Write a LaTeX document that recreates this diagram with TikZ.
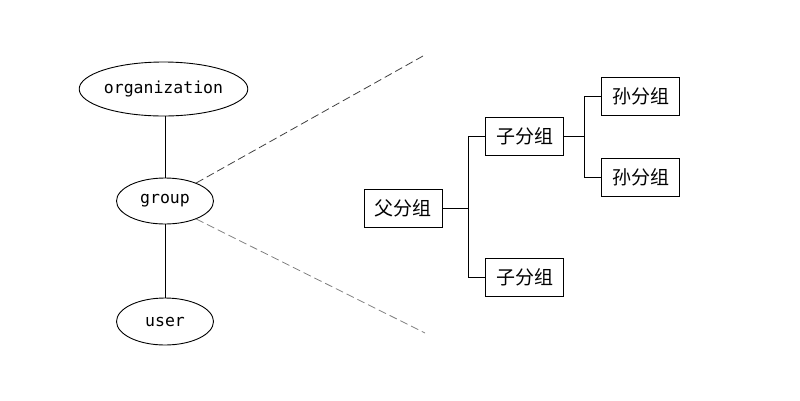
\documentclass[tikz,border=0pt]{standalone}
\usepackage{fontspec}
\setmonofont{DejaVu Sans Mono}
\newfontfamily\cjk{Noto Sans CJK SC}
\usetikzlibrary{shapes.geometric}
\begin{document}
\begin{tikzpicture}[x=1pt,y=-1pt,
  ell/.style={draw,ellipse,line width=0.9pt,inner sep=0pt,font=\ttfamily\fontsize{16.5}{18}\selectfont},
  box/.style={draw,rectangle,line width=0.9pt,inner sep=0pt,minimum width=78pt,minimum height=38pt,font=\cjk\fontsize{19}{21}\selectfont},
  conn/.style={line width=0.9pt},
  dsh/.style={dash pattern=on 8pt off 4pt,line width=0.8pt}]
\useasboundingbox (0,0) rectangle (800,400);
\node[ell,minimum width=167pt,minimum height=54pt] (org) at (163.5,89) {organization};
\node[ell,minimum width=97pt,minimum height=46pt] (grp) at (165,201) {group};
\node[ell,minimum width=97pt,minimum height=47pt] (usr) at (165,321.5) {user};
\draw[conn] (grp.north) -- (grp.north |- org.south);
\draw[conn] (grp) -- (usr);
\coordinate (dt) at (423,56);
\coordinate (db) at (425,333);
\draw[dsh,black!75] (grp.30) -- (dt);
\draw[dsh,black!50] (grp.-30) -- (db);
\node[box] (p) at (403,208) {父分组};
\node[box] (c1) at (524.5,136) {子分组};
\node[box] (c2) at (524.5,277) {子分组};
\node[box] (g1) at (640.5,96) {孙分组};
\node[box] (g2) at (640.5,177) {孙分组};
\coordinate (j1) at (468.5,208);
\coordinate (j2) at (584.5,136);
\draw[conn] (p.east) -- (j1) |- (c1.west);
\draw[conn] (j1) |- (c2.west);
\draw[conn] (c1.east) -- (j2) |- (g1.west);
\draw[conn] (j2) |- (g2.west);
\end{tikzpicture}
\end{document}
